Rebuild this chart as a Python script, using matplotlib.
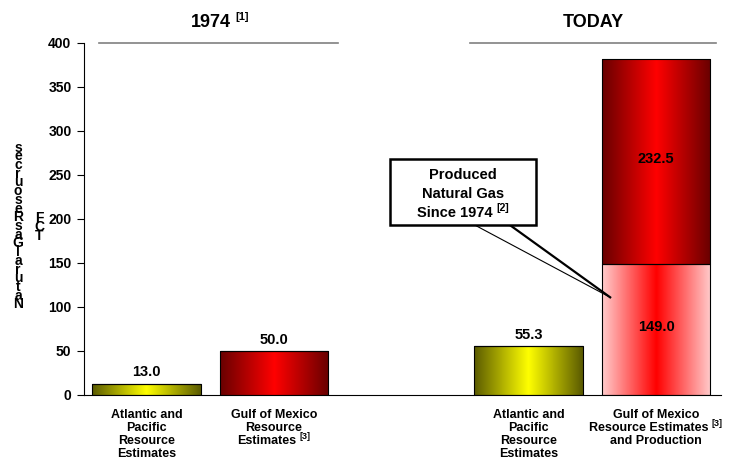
import numpy as np
import matplotlib
matplotlib.use("Agg")
import matplotlib.pyplot as plt
from matplotlib.colors import LinearSegmentedColormap
from matplotlib.patches import Rectangle

plt.rcParams['font.family'] = ['Liberation Sans', 'DejaVu Sans']
plt.rcParams['font.weight'] = 'bold'

# ---- data ----
categories = [
    ["Atlantic and", "Pacific", "Resource", "Estimates"],
    ["Gulf of Mexico", "Resource", "Estimates|[3]"],
    ["Atlantic and", "Pacific", "Resource", "Estimates"],
    ["Gulf of Mexico", "Resource Estimates|[3]", "and Production"],
]
positions = [0, 1, 3, 4]
base_values = [13.0, 50.0, 55.3, 149.0]
produced_values = [0, 0, 0, 232.5]   # stacked on the last bar
base_styles = ['yellow', 'red', 'yellow', 'pink']
group_titles = ["1974|[1]", "TODAY"]
callout_lines = ["Produced", "Natural Gas", "Since 1974|[2]"]
yticks = [0, 50, 100, 150, 200, 250, 300, 350, 400]
ylabel_text = "Natural Gas Resources"
unit_text = "TCF"

W, H = 731, 459
fig = plt.figure(figsize=(W / 100, H / 100), dpi=100)
ax = fig.add_axes([84 / W, 1 - 395 / H, (721 - 84) / W, (395 - 43) / H])
renderer = fig.canvas.get_renderer()

def px(x, y):
    return x / W, 1 - y / H

def text_width(s, size):
    t = fig.text(0, 0, s, fontsize=size, fontweight='bold')
    w = t.get_window_extent(renderer).width
    t.remove()
    return w

def line_with_sup(xc, yb, s, size, sup_scale=0.72, zorder=8):
    """Draw a centred line at baseline yb (pixels); text after '|' is a superscript."""
    if '|' in s:
        main, sup = s.split('|')
        ssize = size * sup_scale
        wm = text_width(main, size)
        ws = text_width(sup, ssize)
        gap = size * 0.35
        left = xc - (wm + gap + ws) / 2
        fig.text(*px(left, yb), main, ha='left', va='baseline', fontsize=size,
                 fontweight='bold', zorder=zorder)
        fig.text(*px(left + wm + gap, yb - size * 0.55), sup, ha='left', va='baseline',
                 fontsize=ssize, fontweight='bold', zorder=zorder)
    else:
        fig.text(*px(xc, yb), s, ha='center', va='baseline', fontsize=size,
                 fontweight='bold', zorder=zorder)

cmaps = {
    'yellow': LinearSegmentedColormap.from_list('y', ['#5a5a00', '#ffff00', '#5a5a00']),
    'red': LinearSegmentedColormap.from_list('r', ['#680000', '#ff0000', '#680000']),
    'pink': LinearSegmentedColormap.from_list('p', ['#ffcccc', '#ff0000', '#ffcccc']),
}
grad = np.linspace(0, 1, 256).reshape(1, -1)

def gradient_bars(x, heights, bottoms, styles):
    bars = ax.bar(x, heights, width=0.85, bottom=bottoms, facecolor='none',
                  edgecolor='black', linewidth=0.8, zorder=3)
    for b, st in zip(bars, styles):
        if b.get_height() <= 0:
            continue
        x0, y0 = b.get_x(), b.get_y()
        w, h = b.get_width(), b.get_height()
        im = ax.imshow(grad, cmap=cmaps[st], aspect='auto',
                       extent=(x0, x0 + w, y0, y0 + h), zorder=2, interpolation='bilinear')
        im.set_clip_path(Rectangle((x0, y0), w, h, transform=ax.transData))
    return bars

gradient_bars(positions, base_values, 0, base_styles)
gradient_bars(positions, produced_values, base_values, ['red'] * 4)

ax.set_xlim(-0.49, 4.51)
ax.set_ylim(0, 400)
ax.set_yticks(yticks)
ax.tick_params(axis='y', labelsize=10, length=5, width=0.8, pad=4)
ax.set_xticks([])
for lab in ax.get_yticklabels():
    lab.set_fontweight('bold')
for s in ['top', 'right']:
    ax.spines[s].set_visible(False)
ax.spines['left'].set_linewidth(0.8)
ax.spines['bottom'].set_linewidth(0.8)

# value labels
for p, v, pv in zip(positions, base_values, produced_values):
    if pv > 0:
        ax.text(p, v / 2 + 3, f"{v:.1f}", ha='center', va='center', fontsize=10.5, fontweight='bold', zorder=5)
        ax.text(p, v + pv / 2 + 3, f"{pv:.1f}", ha='center', va='center', fontsize=10.5, fontweight='bold', zorder=5)
    else:
        ax.annotate(f"{v:.1f}", (p, v), xytext=(0, 3), textcoords='offset points',
                    ha='center', va='bottom', fontsize=10.5, fontweight='bold')

# category labels (line by line, in pixel space under each bar)
for p, lines in zip(positions, categories):
    xc = ax.transData.transform((p, 0))[0]
    for i, ln in enumerate(lines):
        line_with_sup(xc, 418 + i * 13, ln, 9)

# group header lines
ax.plot([-0.372, 1.504], [400, 400], color='#808080', lw=1.2, clip_on=False)
ax.plot([2.54, 4.47], [400, 400], color='#808080', lw=1.2, clip_on=False)

line_with_sup(220, 27, group_titles[0], 13, sup_scale=0.62)
line_with_sup(593, 27, group_titles[1], 13)

# y label: letters stacked upright, reading bottom to top (single text object)
stack = "\n".join(reversed(ylabel_text.replace(" ", "")))
fig.text(*px(18, 226), stack, ha='center', va='center', fontsize=10,
         fontweight='bold', linespacing=0.52, multialignment='center')
fig.text(*px(39, 227), "\n".join(reversed(unit_text)), ha='center', va='center',
         fontsize=10, fontweight='bold', linespacing=0.56, multialignment='center')

# callout
tip = (3.64, 111)
ax.plot([2.579, tip[0]], [193, tip[1]], color='black', lw=0.8, clip_on=False, zorder=6)
ax.plot([2.854, tip[0]], [193, tip[1]], color='black', lw=1.6, clip_on=False, zorder=6)
box = Rectangle(px(390, 225), (536 - 390) / W, (225 - 159) / H, transform=fig.transFigure,
                facecolor='white', edgecolor='black', linewidth=1.8, zorder=7)
fig.add_artist(box)
for i, ln in enumerate(callout_lines):
    line_with_sup(463, 179 + i * 19, ln, 10.5)

fig.savefig("out.png", dpi=100)
